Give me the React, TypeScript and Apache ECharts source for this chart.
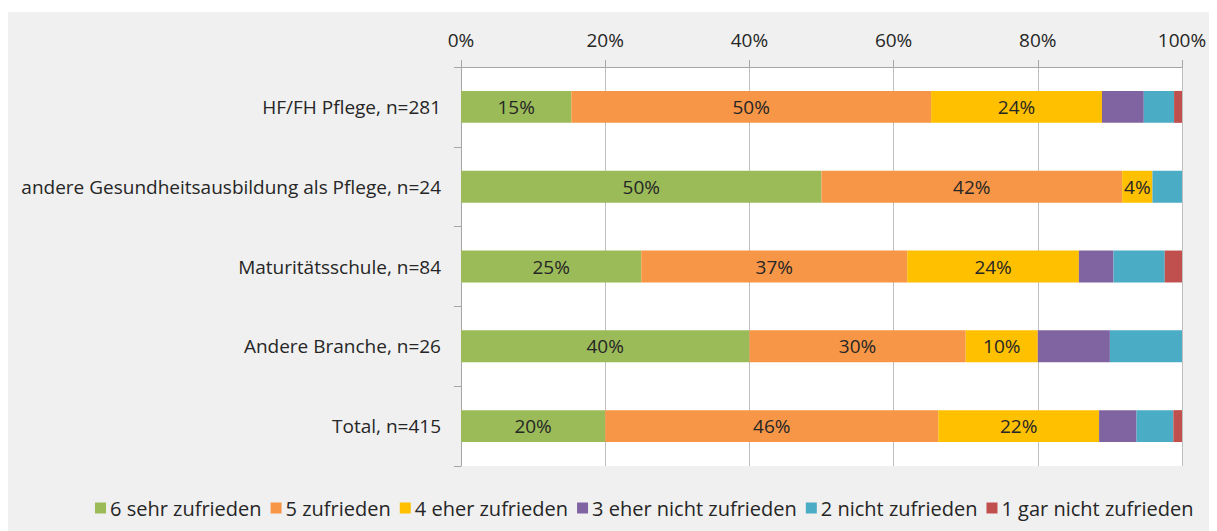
import React, { useEffect, useRef } from "react";
import * as echarts from "echarts";

const categories = [
  "HF/FH Pflege, n=281",
  "andere Gesundheitsausbildung als Pflege, n=24",
  "Maturitätsschule, n=84",
  "Andere Branche, n=26",
  "Total, n=415",
];

const seriesNames = [
  "6 sehr zufrieden",
  "5 zufrieden",
  "4 eher zufrieden",
  "3 eher nicht zufrieden",
  "2 nicht zufrieden",
  "1 gar nicht zufrieden",
];

const colors = ["#9bbb59", "#f79646", "#ffc000", "#8064a2", "#4bacc6", "#c0504d"];

const sehrZufrieden = [15.3, 50.0, 25.0, 40.0, 20.0];
const zufrieden = [49.9, 41.7, 36.9, 30.0, 46.2];
const eherZufrieden = [23.7, 4.2, 23.8, 10.0, 22.3];
const eherNichtZufrieden = [5.8, 0, 4.8, 10.0, 5.2];
const nichtZufrieden = [4.2, 4.1, 7.1, 10.0, 5.1];
const garNichtZufrieden = [1.1, 0, 2.4, 0, 1.2];

const seriesData = [
  sehrZufrieden,
  zufrieden,
  eherZufrieden,
  eherNichtZufrieden,
  nichtZufrieden,
  garNichtZufrieden,
];
const labeledSeries = [true, true, true, false, false, false];

const xTicks = [0, 20, 40, 60, 80, 100];

const FONT = "Open Sans";
const FS = 19;

export default function App() {
  const ref = useRef<HTMLDivElement>(null);
  useEffect(() => {
    if (!ref.current) return;
    const chart = echarts.init(ref.current, undefined, { renderer: "svg" });
    chart.setOption({
      animation: false,
      backgroundColor: "#f0f0f0",
      textStyle: { fontFamily: FONT },
      grid: {
        left: 453,
        right: 35,
        top: 55,
        bottom: 65,
        show: true,
        backgroundColor: "#ffffff",
        borderWidth: 0,
      },
      legend: {
        data: seriesNames,
        left: 82,
        top: 481,
        itemWidth: 11,
        itemHeight: 11,
        itemGap: 9,
        icon: "rect",
        textStyle: { fontFamily: FONT, fontSize: 20, color: "#262626", padding: [0, 0, 0, -1] },
      },
      xAxis: {
        type: "value",
        position: "top",
        min: xTicks[0],
        max: xTicks[xTicks.length - 1],
        interval: 20,
        axisLine: { show: true, lineStyle: { color: "#a6a6a6", width: 1 } },
        axisTick: { show: true, length: 7, lineStyle: { color: "#a6a6a6" } },
        splitLine: { show: true, lineStyle: { color: "#bfbfbf", width: 1 } },
        axisLabel: {
          formatter: (v: number) => v + "%",
          fontFamily: FONT,
          fontSize: FS,
          color: "#262626",
          margin: 18,
        },
      },
      yAxis: {
        type: "category",
        data: categories,
        inverse: true,
        axisLine: { show: true, lineStyle: { color: "#a6a6a6", width: 1 } },
        axisTick: { show: true, length: 7, lineStyle: { color: "#a6a6a6" } },
        axisLabel: {
          fontFamily: FONT,
          fontSize: FS,
          color: "#262626",
          margin: 20,
        },
      },
      series: seriesNames.map((name, i) => ({
        name,
        type: "bar",
        stack: "total",
        barWidth: "40%",
        itemStyle: { color: colors[i] },
        label: {
          show: labeledSeries[i],
          position: "inside",
          fontFamily: FONT,
          fontSize: FS,
          color: "#262626",
          formatter: (p: any) => Math.round(p.value) + "%",
        },
        data: seriesData[i],
      })),
    });
    return () => chart.dispose();
  }, []);
  return (
    <div
      ref={ref}
      style={{ width: 1209, height: 519, marginTop: 4 }}
    />
  );
}
